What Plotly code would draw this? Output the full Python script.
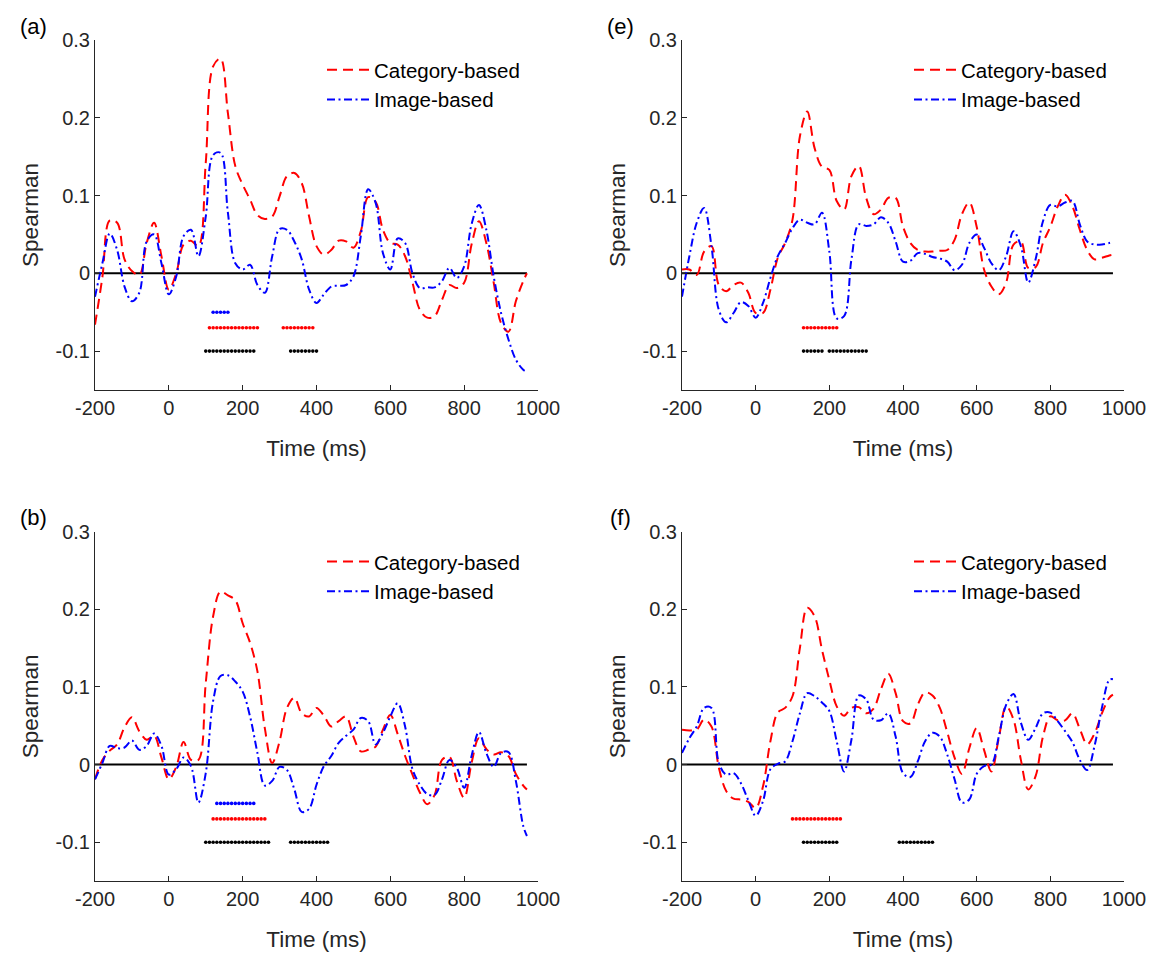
import plotly.graph_objects as go

# ---------------- data ----------------
time_ms = [-200, -180, -160, -140, -120, -100, -80, -60, -40, -20,
           0, 20, 40, 60, 80, 100, 120, 140, 160, 180,
           200, 220, 240, 260, 280, 300, 320, 340, 360, 380,
           400, 420, 440, 460, 480, 500, 520, 540, 560, 580,
           600, 620, 640, 660, 680, 700, 720, 740, 760, 780,
           800, 820, 840, 860, 880, 900, 920, 940, 960, 970]

a_category = [-0.066, -0.005, 0.068, 0.065, 0.018, 0.003, -0.002, 0.039, 0.065, 0.022,
              -0.021, 0.000, 0.037, 0.042, 0.035, 0.142, 0.266, 0.276, 0.206, 0.138,
              0.114, 0.095, 0.075, 0.070, 0.073, 0.099, 0.125, 0.129, 0.116, 0.073,
              0.035, 0.024, 0.030, 0.042, 0.041, 0.033, 0.054, 0.098, 0.092, 0.056,
              0.039, 0.037, 0.022, -0.012, -0.047, -0.057, -0.055, -0.034, -0.015, -0.019,
              -0.012, 0.037, 0.067, 0.039, -0.012, -0.064, -0.075, -0.036, -0.010, 0.000]
a_image = [-0.030, 0.013, 0.051, 0.030, -0.017, -0.036, -0.025, 0.041, 0.050, 0.013,
           -0.027, -0.004, 0.048, 0.056, 0.022, 0.073, 0.152, 0.155, 0.078, 0.013,
           0.005, 0.011, -0.015, -0.025, 0.022, 0.057, 0.056, 0.041, 0.018, -0.021,
           -0.038, -0.027, -0.017, -0.016, -0.015, -0.004, 0.048, 0.108, 0.091, 0.026,
           0.005, 0.045, 0.039, 0.000, -0.019, -0.018, -0.018, -0.010, 0.007, -0.006,
           0.009, 0.063, 0.088, 0.056, -0.004, -0.051, -0.085, -0.111, -0.124, -0.127]

e_category = [0.005, 0.005, -0.002, 0.028, 0.035, -0.015, -0.023, -0.015, -0.012, -0.025,
              -0.051, -0.051, -0.021, 0.020, 0.039, 0.069, 0.176, 0.208, 0.161, 0.137,
              0.133, 0.093, 0.082, 0.125, 0.138, 0.097, 0.076, 0.082, 0.097, 0.097,
              0.060, 0.039, 0.030, 0.028, 0.028, 0.029, 0.030, 0.043, 0.076, 0.091,
              0.060, 0.005, -0.017, -0.027, -0.012, 0.037, 0.041, 0.007, 0.008, 0.039,
              0.060, 0.086, 0.101, 0.086, 0.056, 0.030, 0.018, 0.020, 0.023, 0.024]
e_image = [-0.030, 0.022, 0.065, 0.084, 0.035, -0.047, -0.063, -0.051, -0.037, -0.042,
           -0.057, -0.038, -0.006, 0.022, 0.039, 0.058, 0.069, 0.065, 0.063, 0.078,
           0.028, -0.058, -0.055, 0.018, 0.063, 0.061, 0.063, 0.072, 0.065, 0.041,
           0.015, 0.016, 0.026, 0.025, 0.021, 0.019, 0.015, 0.004, 0.011, 0.039,
           0.050, 0.033, 0.013, 0.004, 0.022, 0.054, 0.035, -0.012, 0.018, 0.067,
           0.088, 0.086, 0.091, 0.093, 0.063, 0.041, 0.037, 0.037, 0.039, 0.040]

b_category = [-0.019, 0.006, 0.018, 0.026, 0.048, 0.061, 0.043, 0.032, 0.037, 0.009,
              -0.019, -0.003, 0.029, 0.006, 0.006, 0.105, 0.191, 0.223, 0.218, 0.212,
              0.182, 0.157, 0.120, 0.047, 0.002, 0.030, 0.073, 0.086, 0.066, 0.062,
              0.073, 0.063, 0.049, 0.056, 0.062, 0.036, 0.017, 0.019, 0.023, 0.045,
              0.064, 0.039, 0.011, -0.013, -0.036, -0.051, -0.039, 0.006, 0.010, -0.021,
              -0.043, 0.002, 0.034, 0.020, 0.013, 0.016, 0.011, -0.012, -0.027, -0.032]
b_image = [-0.019, 0.002, 0.024, 0.021, 0.022, 0.031, 0.019, 0.024, 0.040, 0.024,
           -0.013, -0.006, 0.009, -0.002, -0.049, -0.011, 0.082, 0.114, 0.115, 0.107,
           0.094, 0.062, 0.015, -0.027, -0.021, -0.003, -0.007, -0.032, -0.061, -0.057,
           -0.026, -0.002, 0.011, 0.028, 0.037, 0.045, 0.060, 0.056, 0.026, 0.041,
           0.062, 0.079, 0.049, -0.006, -0.026, -0.038, -0.039, -0.019, 0.006, -0.004,
           -0.030, 0.011, 0.042, 0.015, -0.003, 0.015, 0.016, -0.021, -0.079, -0.092]

f_category = [0.045, 0.044, 0.045, 0.058, 0.049, -0.004, -0.034, -0.044, -0.045, -0.048,
              -0.056, -0.028, 0.030, 0.067, 0.073, 0.088, 0.150, 0.202, 0.191, 0.148,
              0.109, 0.075, 0.063, 0.073, 0.074, 0.066, 0.072, 0.097, 0.117, 0.092,
              0.056, 0.053, 0.077, 0.093, 0.089, 0.073, 0.042, 0.009, -0.012, 0.021,
              0.047, 0.019, -0.009, 0.034, 0.075, 0.058, 0.006, -0.032, -0.015, 0.036,
              0.062, 0.057, 0.057, 0.066, 0.046, 0.026, 0.040, 0.066, 0.086, 0.090]
f_image = [0.015, 0.034, 0.049, 0.073, 0.073, 0.002, -0.013, -0.011, -0.024, -0.046,
           -0.066, -0.047, -0.006, 0.001, 0.004, 0.030, 0.066, 0.092, 0.088, 0.080,
           0.069, 0.030, -0.009, 0.032, 0.089, 0.084, 0.058, 0.057, 0.066, 0.036,
           -0.011, -0.016, 0.004, 0.030, 0.041, 0.036, 0.013, -0.019, -0.049, -0.045,
           -0.012, -0.002, 0.000, 0.036, 0.077, 0.091, 0.054, 0.032, 0.047, 0.066,
           0.067, 0.056, 0.043, 0.029, 0.006, -0.007, 0.024, 0.073, 0.109, 0.110]

# significant time points (ms) and the level at which each row of dots is drawn
sig_level_image, sig_level_category, sig_level_both = -0.05, -0.07, -0.10

a_sig_image = [120, 130, 140, 150, 160]
a_sig_category = [110, 120, 130, 140, 150, 160, 170, 180, 190, 200, 210, 220, 230, 240,
                  310, 320, 330, 340, 350, 360, 370, 380, 390]
a_sig_both = [100, 110, 120, 130, 140, 150, 160, 170, 180, 190, 200, 210, 220, 230,
              330, 340, 350, 360, 370, 380, 390, 400]

b_sig_image = [130, 140, 150, 160, 170, 180, 190, 200, 210, 220, 230]
b_sig_category = [120, 130, 140, 150, 160, 170, 180, 190, 200, 210, 220, 230, 240, 250, 260]
b_sig_both = [100, 110, 120, 130, 140, 150, 160, 170, 180, 190, 200, 210, 220, 230, 240,
              250, 260, 270, 330, 340, 350, 360, 370, 380, 390, 400, 410, 420, 430]

e_sig_image = []
e_sig_category = [130, 140, 150, 160, 170, 180, 190, 200, 210, 220]
e_sig_both = [130, 140, 150, 160, 170, 180, 200, 210, 220, 230, 240, 250, 260, 270,
              280, 290, 300]

f_sig_image = []
f_sig_category = [100, 110, 120, 130, 140, 150, 160, 170, 180, 190, 200, 210, 220, 230]
f_sig_both = [130, 140, 150, 160, 170, 180, 190, 200, 210, 220,
              390, 400, 410, 420, 430, 440, 450, 460, 470, 480]

panel_labels = ["(a)", "(e)", "(b)", "(f)"]
series_names = ["Category-based", "Image-based"]
x_ticks = [-200, 0, 200, 400, 600, 800, 1000]
x_ticktext = ["-200", "0", "200", "400", "600", "800", "1000"]
y_ticks = [-0.1, 0, 0.1, 0.2, 0.3]
y_ticktext = ["-0.1", "0", "0.1", "0.2", "0.3"]

# ---------------- layout geometry ----------------
PAGE_W, PAGE_H = 1170, 975
OFF = 8  # default page body margin in the browser
W, H = PAGE_W - OFF, PAGE_H - OFF
FONT = "Liberation Sans, Arial, Helvetica, sans-serif"
AX = "#262626"
RED, BLUE = "#ff0000", "#0000ff"


def px(x):
    return (x - OFF) / W


def py(y):
    return 1 - (y - OFF) / H


panels = [
    (a_category, a_image, a_sig_image, a_sig_category, a_sig_both, (95, 538), (40, 390)),
    (e_category, e_image, e_sig_image, e_sig_category, e_sig_both, (682, 1124), (40, 390)),
    (b_category, b_image, b_sig_image, b_sig_category, b_sig_both, (95, 538), (531.7, 881)),
    (f_category, f_image, f_sig_image, f_sig_category, f_sig_both, (682, 1124), (531.7, 881)),
]

fig = go.Figure()
layout = dict(
    width=W, height=H, margin=dict(l=0, r=0, t=0, b=0, autoexpand=False),
    paper_bgcolor="white", plot_bgcolor="white",
    font=dict(family=FONT, color=AX, size=20),
    annotations=[],
)

for i, (cat, img, s_img, s_cat, s_both, (x0, x1), (yt, yb)) in enumerate(panels):
    lab = panel_labels[i]
    n = "" if i == 0 else str(i + 1)
    xa, ya = "x" + n, "y" + n
    leg = "legend" + n

    # zero line
    fig.add_trace(go.Scatter(x=[time_ms[0], time_ms[-1]], y=[0, 0], mode="lines",
                             line=dict(color="black", width=2), xaxis=xa, yaxis=ya,
                             showlegend=False, hoverinfo="skip"))
    fig.add_trace(go.Scatter(x=time_ms, y=cat, mode="lines", name=series_names[0],
                             line=dict(color=RED, width=2, dash="10px,6px", shape="spline",
                                       smoothing=1.0),
                             xaxis=xa, yaxis=ya, legend=leg))
    fig.add_trace(go.Scatter(x=time_ms, y=img, mode="lines", name=series_names[1],
                             line=dict(color=BLUE, width=2, dash="8px,3.5px,2px,3.5px",
                                       shape="spline", smoothing=1.0),
                             xaxis=xa, yaxis=ya, legend=leg))
    for pts, lvl, col in ((s_img, sig_level_image, BLUE),
                          (s_cat, sig_level_category, RED),
                          (s_both, sig_level_both, "black")):
        if pts:
            fig.add_trace(go.Scatter(x=pts, y=[lvl] * len(pts), mode="markers",
                                     marker=dict(color=col, size=3.6),
                                     xaxis=xa, yaxis=ya, showlegend=False,
                                     hoverinfo="skip"))

    axis_common = dict(showgrid=False, zeroline=False, showline=True, linecolor=AX,
                       linewidth=1, ticks="inside", ticklen=5, tickcolor=AX, tickwidth=1,
                       tickfont=dict(family=FONT, size=20, color=AX), mirror=False,
                       automargin=False)
    layout["xaxis" + n] = dict(axis_common, domain=[px(x0), px(x1)], range=[-200, 1000],
                               tickvals=x_ticks, ticktext=x_ticktext, anchor=ya,
                               title=dict(text="Time (ms)", standoff=22,
                                          font=dict(family=FONT, size=22.5, color=AX)))
    layout["yaxis" + n] = dict(axis_common, domain=[py(yb), py(yt)],
                               range=[-0.15, 0.3], tickvals=y_ticks, ticktext=y_ticktext,
                               anchor=xa,
                               title=dict(text="Spearman", standoff=10,
                                          font=dict(family=FONT, size=22.5, color=AX)))
    # legend per panel
    lx = x0 + 227
    ly = yt + 10
    layout[leg] = dict(x=px(lx), y=py(ly), xanchor="left", yanchor="top",
                       bgcolor="rgba(0,0,0,0)", borderwidth=0, itemwidth=42,
                       font=dict(family=FONT, size=20.5, color="black"),
                       tracegroupgap=0)
    # panel label
    layout["annotations"].append(dict(text=lab, x=px(x0 - 62), y=py(yt - 14),
                                      xref="paper", yref="paper", showarrow=False,
                                      xanchor="center", yanchor="middle",
                                      font=dict(family=FONT, size=22, color="black")))

fig.update_layout(**layout)
fig.write_html("out.html")
